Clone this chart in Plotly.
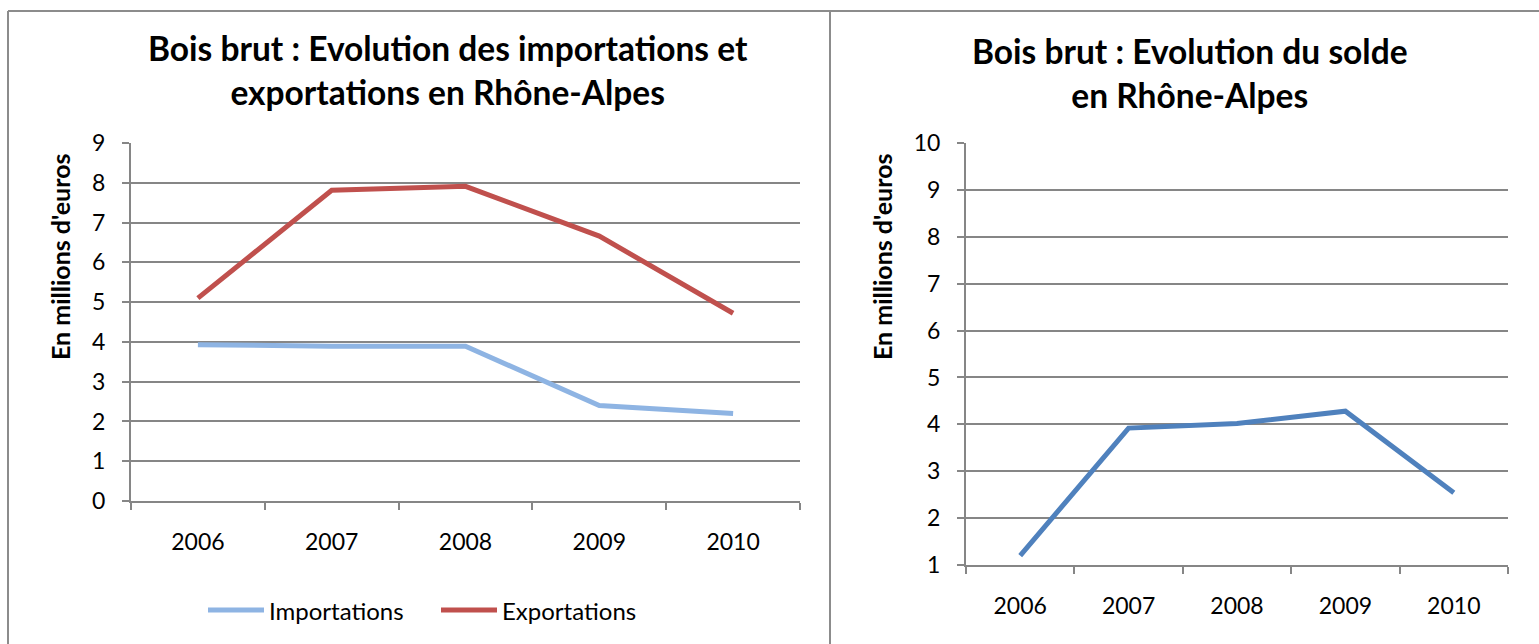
import plotly.graph_objects as go

years = ["2006", "2007", "2008", "2009", "2010"]
importations = [3.93, 3.89, 3.89, 2.40, 2.20]
exportations = [5.10, 7.81, 7.91, 6.66, 4.72]
solde = [1.20, 3.92, 4.02, 4.28, 2.54]

W, H = 1539, 644
def px(x):
    return x / W
def py(y):
    return 1 - y / H

FONT = "Lato, Open Sans, sans-serif"
GRID = "#868686"
C_IMP, C_EXP, C_SOL = "#8EB4E3", "#C0504D", "#4F81BD"

fig = go.Figure()
fig.add_trace(go.Scatter(x=years, y=importations, mode="lines", name="Importations", showlegend=False,
                         line=dict(color=C_IMP, width=5), xaxis="x", yaxis="y"))
fig.add_trace(go.Scatter(x=years, y=exportations, mode="lines", name="Exportations", showlegend=False,
                         line=dict(color=C_EXP, width=5), xaxis="x", yaxis="y"))
fig.add_trace(go.Scatter(x=years, y=solde, mode="lines", name="Solde", showlegend=False,
                         line=dict(color=C_SOL, width=5), xaxis="x2", yaxis="y2"))

xcommon = dict(type="category", range=[-0.5, 4.5], showline=True, linecolor=GRID, linewidth=2,
               ticks="outside", tickson="boundaries", ticklen=7, tickcolor=GRID, tickwidth=2,
               showgrid=False, tickfont=dict(family=FONT, size=23, color="#000"),
               ticklabelstandoff=19, fixedrange=True, automargin=False)
ycommon = dict(showline=True, linecolor=GRID, linewidth=2, ticks="outside", ticklen=7,
               tickcolor=GRID, tickwidth=2, showgrid=True, gridcolor=GRID, gridwidth=1.5,
               dtick=1, tickfont=dict(family=FONT, size=23, color="#000"),
               ticklabelstandoff=12, zeroline=False, fixedrange=True, automargin=False)

fig.update_layout(
    width=W, height=H,
    margin=dict(l=0, r=0, t=0, b=0, autoexpand=False),
    paper_bgcolor="white", plot_bgcolor="white",
    xaxis=dict(xcommon, domain=[px(131), px(800)], anchor="y"),
    yaxis=dict(ycommon, domain=[py(501), py(143)], range=[0, 9], anchor="x"),
    xaxis2=dict(xcommon, domain=[px(966), px(1508)], anchor="y2"),
    yaxis2=dict(ycommon, domain=[py(565), py(143)], range=[1, 10], anchor="x2"),
    showlegend=False,
)

# titles
fig.add_annotation(text="<b>Bois brut : Evolution des importations et<br>exportations en Rhône-Alpes</b>",
                   x=px(448), y=py(70), xref="paper", yref="paper", xanchor="center", yanchor="middle",
                   showarrow=False, font=dict(family=FONT, size=33.5, color="#000"), align="center")
fig.add_annotation(text="<b>Bois brut : Evolution du solde<br>en Rhône-Alpes</b>",
                   x=px(1190), y=py(73), xref="paper", yref="paper", xanchor="center", yanchor="middle",
                   showarrow=False, font=dict(family=FONT, size=33.5, color="#000"), align="center")
# y titles
for xx in (60, 882):
    fig.add_annotation(text="<b>En millions d'euros</b>", x=px(xx), y=py(257), xref="paper", yref="paper",
                       xanchor="center", yanchor="middle", showarrow=False, textangle=-90,
                       font=dict(family=FONT, size=25, color="#000"))

# legend (left chart)
legend_items = [("Importations", C_IMP, 208, 264), ("Exportations", C_EXP, 441, 497)]
for name, col, x0, x1 in legend_items:
    fig.add_shape(type="line", xref="paper", yref="paper", x0=px(x0), x1=px(x1), y0=py(610), y1=py(610),
                  line=dict(color=col, width=5))
    fig.add_annotation(text=name, x=px(x1 + 3), y=py(610), xref="paper", yref="paper",
                       xanchor="left", yanchor="middle", showarrow=False,
                       font=dict(family=FONT, size=24, color="#000"))

# borders
bc = "#8C8C8C"
fig.add_shape(type="line", xref="paper", yref="paper", x0=px(8), x1=1, y0=py(11), y1=py(11),
              line=dict(color=bc, width=2))
fig.add_shape(type="line", xref="paper", yref="paper", x0=px(8), x1=px(8), y0=py(11), y1=0,
              line=dict(color=bc, width=2))
fig.add_shape(type="line", xref="paper", yref="paper", x0=px(830), x1=px(830), y0=py(11), y1=0,
              line=dict(color=bc, width=2))

fig.write_html("out.html", config={"displayModeBar": False},
               post_script="document.body.style.margin='0';document.body.style.overflow='hidden';")
